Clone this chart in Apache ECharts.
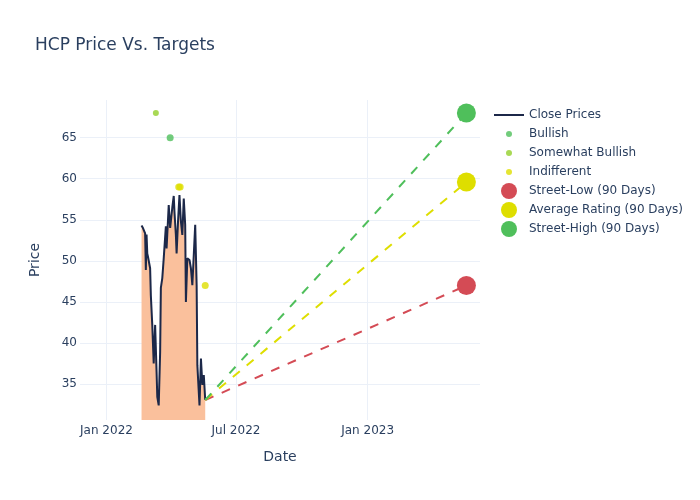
<!DOCTYPE html>
<html>
<head>
<meta charset="utf-8">
<script src="https://cdn.jsdelivr.net/npm/echarts@6/dist/echarts.min.js"></script>
<style>
  html, body { margin: 0; padding: 0; background: #fff; }
  #chart { width: 700px; height: 500px; }
</style>
</head>
<body>
<div id="chart"></div>
<script>
// close prices
const closeDates = [
  '2022-02-19', '2022-02-21', '2022-02-24', '2022-02-25', '2022-02-26', '2022-02-27', '2022-02-28',
  '2022-03-03', '2022-03-04', '2022-03-06', '2022-03-08', '2022-03-10', '2022-03-12', '2022-03-13',
  '2022-03-15', '2022-03-17', '2022-03-18', '2022-03-20', '2022-03-22', '2022-03-25', '2022-03-26',
  '2022-03-29', '2022-03-31', '2022-04-03', '2022-04-05', '2022-04-06', '2022-04-08', '2022-04-09',
  '2022-04-11', '2022-04-13', '2022-04-15', '2022-04-17', '2022-04-19', '2022-04-21', '2022-04-22',
  '2022-04-24', '2022-04-27', '2022-04-29', '2022-05-01', '2022-05-03', '2022-05-05', '2022-05-07',
  '2022-05-08', '2022-05-11', '2022-05-13', '2022-05-15', '2022-05-17', '2022-05-19'
]
const closePrices = [
  54.3, 54.0, 53.35, 48.9, 53.2, 50.9, 50.5,
  49.1, 45.8, 42.2, 37.5, 42.2, 36.5, 33.45,
  32.4, 38.9, 46.7, 47.9, 50.3, 54.2, 51.5,
  56.8, 54.0, 56.5, 57.9, 56.0, 53.15, 50.9,
  54.8, 58.0, 54.8, 53.15, 57.6, 54.4, 45.0,
  50.3, 50.1, 49.1, 47.05, 47.05, 54.4, 47.05,
  37.3, 32.4, 38.1, 34.9, 36.1, 33.05
]

// analyst ratings
const bullishDates = ['2022-03-31']
const bullishTargets = [65]
const somewhatBullishDates = ['2022-03-11']
const somewhatBullishTargets = [68]
const indifferentDates = ['2022-04-12', '2022-04-14', '2022-05-19']
const indifferentTargets = [59, 59, 47]

// 90 day targets
const targetDate = '2023-05-19'
const streetLow = 47
const averageRating = 59.6
const streetHigh = 68

// axes
const xTickDates = ['2022-01-01', '2022-07-01', '2023-01-01']
const yTicks = [35, 40, 45, 50, 55, 60, 65]
const monthNames = ['Jan', 'Feb', 'Mar', 'Apr', 'May', 'Jun', 'Jul', 'Aug', 'Sep', 'Oct', 'Nov', 'Dec']

const font = 'DejaVu Sans'
const textColor = '#2a3f5f'
const gridColor = '#ebf0f8'

const ts = d => echarts.time.parse(d).getTime()
const zip = (xs, ys) => xs.map((x, i) => [ts(x), ys[i]])
const lastDate = closeDates[closeDates.length - 1]
const lastPrice = closePrices[closePrices.length - 1]

function targetLine (name, color, value) {
  return {
    name: name,
    type: 'line',
    color: color,
    symbolSize: 19,
    lineStyle: { color: color, width: 2, type: [9, 9] },
    itemStyle: { color: color },
    data: [
      { value: [ts(lastDate), lastPrice], symbol: 'none' },
      { value: [ts(targetDate), value], symbol: 'circle' }
    ],
    z: 4
  }
}

// legend: one block per entry, so every icon can get its own size
// (left is shifted per icon size so dots centre on the line icon and texts line up)
const legendItems = [
  { name: 'Close Prices', icon: 'rect', h: 2, y: 115, left: 494, color: '#1c2849' },
  { name: 'Bullish', icon: 'circle', h: 6, y: 134, left: 506, color: '#4fbf5b' },
  { name: 'Somewhat Bullish', icon: 'circle', h: 6, y: 153, left: 506, color: '#94cf2b' },
  { name: 'Indifferent', icon: 'circle', h: 6, y: 172, left: 506, color: '#dede00' },
  { name: 'Street-Low (90 Days)', icon: 'circle', h: 16, y: 191, left: 501, color: '#d44b55' },
  { name: 'Average Rating (90 Days)', icon: 'circle', h: 16, y: 210, left: 501, color: '#dede00' },
  { name: 'Street-High (90 Days)', icon: 'circle', h: 16, y: 229, left: 501, color: '#4fbf5b' }
]

const xTickValues = xTickDates.map(ts)

const chart = echarts.init(document.getElementById('chart'))
chart.setOption({
  animation: false,
  backgroundColor: '#fff',
  title: {
    text: 'HCP Price Vs. Targets',
    left: 35,
    top: 37,
    padding: 0,
    textStyle: { color: textColor, fontFamily: font, fontSize: 17, fontWeight: 'normal' }
  },
  legend: legendItems.map(it => ({
    orient: 'vertical',
    left: it.left,
    top: it.y - Math.max(it.h, 12) / 2,
    padding: 0,
    itemWidth: 30,
    itemHeight: it.h,
    itemGap: 0,
    textStyle: { color: textColor, fontFamily: font, fontSize: 12 },
    data: [{ name: it.name, icon: it.icon, itemStyle: { color: it.color, borderWidth: 0 } }]
  })),
  grid: { left: 80, right: 220, top: 100, bottom: 80, containLabel: false },
  xAxis: {
    type: 'value',
    min: ts('2021-11-25'),
    max: ts('2023-06-07'),
    name: 'Date',
    nameLocation: 'middle',
    nameGap: 30,
    nameTextStyle: { color: textColor, fontFamily: font, fontSize: 14 },
    axisLine: { show: false },
    axisTick: { show: false, customValues: xTickValues },
    axisLabel: {
      customValues: xTickValues,
      color: textColor,
      fontFamily: font,
      fontSize: 12,
      margin: 5,
      formatter: v => {
        const d = new Date(v)
        return monthNames[d.getMonth()] + ' ' + d.getFullYear()
      }
    },
    splitLine: { show: true, lineStyle: { color: gridColor, width: 1 } }
  },
  yAxis: {
    type: 'value',
    min: 30.62,
    max: 69.59,
    name: 'Price',
    nameLocation: 'middle',
    nameGap: 38,
    nameTextStyle: { color: textColor, fontFamily: font, fontSize: 14 },
    axisLine: { show: false },
    axisTick: { show: false, customValues: yTicks },
    axisLabel: { customValues: yTicks, color: textColor, fontFamily: font, fontSize: 12, margin: 3 },
    splitLine: { show: true, lineStyle: { color: gridColor, width: 1 } }
  },
  series: [
    {
      name: 'Close Prices',
      type: 'line',
      color: '#1c2849',
      symbol: 'none',
      showSymbol: false,
      lineStyle: { color: '#1c2849', width: 2 },
      areaStyle: { color: '#fac09c', opacity: 1, origin: 'start' },
      data: zip(closeDates, closePrices),
      z: 2
    },
    {
      name: 'Bullish',
      type: 'scatter',
      color: '#4fbf5b',
      symbolSize: 7,
      data: zip(bullishDates, bullishTargets),
      z: 5
    },
    {
      name: 'Somewhat Bullish',
      type: 'scatter',
      color: '#94cf2b',
      symbolSize: 6,
      data: zip(somewhatBullishDates, somewhatBullishTargets),
      z: 5
    },
    {
      name: 'Indifferent',
      type: 'scatter',
      color: '#dede00',
      symbolSize: 7,
      data: zip(indifferentDates, indifferentTargets),
      z: 5
    },
    targetLine('Street-Low (90 Days)', '#d44b55', streetLow),
    targetLine('Average Rating (90 Days)', '#dede00', averageRating),
    targetLine('Street-High (90 Days)', '#4fbf5b', streetHigh)
  ]
})
</script>
</body>
</html>
